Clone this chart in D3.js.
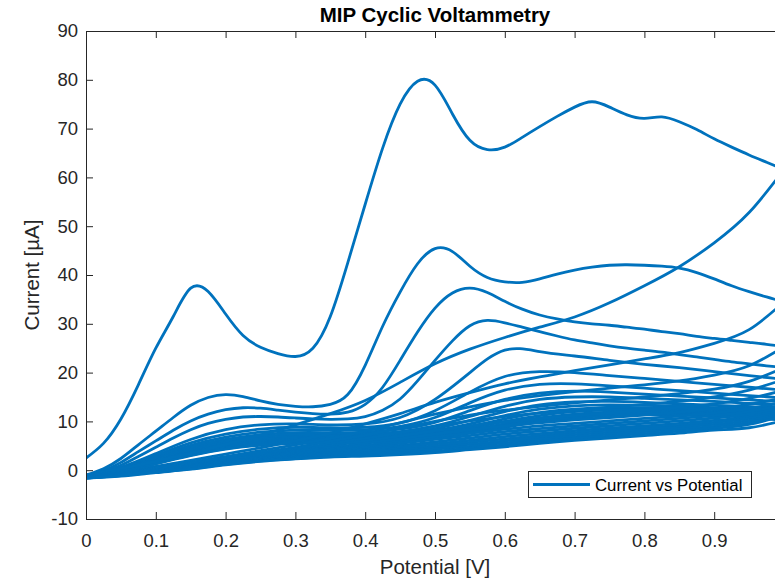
<!DOCTYPE html>
<html>
<head>
<meta charset="utf-8">
<script src="https://cdn.jsdelivr.net/npm/d3@7"></script>
<style>
  html, body { margin: 0; padding: 0; background: #ffffff; }
  svg { display: block; }
  text { font-family: "Liberation Sans", Arial, Helvetica, sans-serif; }
</style>
</head>
<body>
<svg id="chart" width="775" height="579"></svg>
<script>
// Potential grids (V)
const potentialFine = [0, 0.025, 0.05, 0.075, 0.1, 0.125, 0.15, 0.175, 0.2, 0.225, 0.25, 0.275, 0.3, 0.325, 0.35, 0.375, 0.4, 0.425, 0.45, 0.475, 0.5, 0.525, 0.55, 0.575, 0.6, 0.625, 0.65, 0.675, 0.7, 0.725, 0.75, 0.775, 0.8, 0.825, 0.85, 0.875, 0.9, 0.925, 0.95, 0.975, 1.0];
const potential = [0, 0.05, 0.1, 0.15, 0.2, 0.25, 0.3, 0.35, 0.4, 0.45, 0.5, 0.55, 0.6, 0.65, 0.7, 0.75, 0.8, 0.85, 0.9, 0.95, 1.0];

// Anodic (forward) sweeps of the first four cycles, on the fine grid (µA)
const forwardEarly = [
  [2.5, 5.5, 10.5, 17.5, 25.0, 31.5, 37.3, 36.6, 32.0, 27.6, 25.2, 23.9, 23.3, 25.0, 31.5, 42.5, 54.5, 66.0, 75.0, 79.7, 78.9, 73.0, 67.6, 65.7, 66.2, 68.2, 70.4, 72.5, 74.4, 75.5, 74.4, 72.8, 72.1, 72.4, 71.4, 69.8, 67.9, 66.2, 64.6, 63.1, 61.6],
  [-1.0, 0.3, 2.4, 5.2, 8.0, 10.8, 13.3, 14.9, 15.5, 15.1, 14.2, 13.5, 13.1, 13.0, 13.5, 15.5, 21.5, 29.5, 36.5, 42.3, 45.4, 44.8, 41.8, 39.5, 38.6, 38.5, 39.2, 40.2, 41.0, 41.6, 42.0, 42.1, 42.0, 41.8, 41.4, 40.5, 39.2, 37.8, 36.6, 35.5, 34.5],
  [-1.1, -0.1, 1.6, 3.8, 6.0, 8.2, 10.1, 11.5, 12.4, 12.8, 12.7, 12.3, 11.9, 11.6, 11.5, 11.9, 13.5, 17.0, 22.5, 28.3, 33.2, 36.3, 37.3, 36.4, 34.6, 33.0, 31.8, 31.0, 30.4, 30.0, 29.7, 29.3, 28.9, 28.4, 28.0, 27.4, 27.0, 26.6, 26.2, 25.8, 25.3],
  [-1.1, -0.3, 1.0, 2.8, 4.7, 6.6, 8.3, 9.6, 10.4, 10.9, 11.0, 10.9, 10.7, 10.5, 10.4, 10.5, 11.0, 12.3, 14.6, 18.3, 22.5, 26.5, 29.6, 30.7, 30.2, 29.3, 28.4, 27.5, 26.7, 26.1, 25.5, 25.0, 24.6, 24.2, 23.7, 23.2, 22.7, 22.2, 21.8, 21.4, 21.0]
];

// Anodic sweeps of cycles 5-16 (µA)
const forwardLate = [
  [-1.1, 0.6, 3.4, 6.3, 8.3, 9.3, 9.5, 9.3, 9.5, 10.8, 14.5, 20.0, 24.6, 24.3, 23.4, 22.5, 21.7, 21.0, 20.2, 19.4, 18.6],
  [-1.2, 0.4, 3.0, 5.6, 7.4, 8.4, 8.8, 8.7, 8.8, 9.7, 12.2, 16.0, 19.2, 20.2, 20.0, 19.4, 18.8, 18.2, 17.6, 17.0, 16.4],
  [-1.2, 0.3, 2.7, 5.1, 6.8, 7.8, 8.2, 8.2, 8.3, 9.0, 10.8, 13.8, 16.4, 17.6, 17.7, 17.3, 16.8, 16.3, 15.8, 15.3, 14.8],
  [-1.3, 0.2, 2.5, 4.7, 6.3, 7.3, 7.7, 7.7, 7.8, 8.4, 9.8, 12.2, 14.5, 15.8, 16.2, 16.0, 15.6, 15.2, 14.8, 14.4, 14.0],
  [-1.3, 0.1, 2.3, 4.4, 5.9, 6.9, 7.3, 7.3, 7.4, 7.9, 9.1, 11.0, 13.1, 14.5, 15.0, 15.0, 14.7, 14.4, 14.1, 13.7, 13.4],
  [-1.3, 0.0, 2.1, 4.1, 5.6, 6.5, 6.9, 7.0, 7.1, 7.5, 8.5, 10.2, 12.0, 13.4, 14.0, 14.1, 13.9, 13.6, 13.3, 13.0, 12.8],
  [-1.4, -0.1, 1.9, 3.8, 5.3, 6.2, 6.6, 6.7, 6.8, 7.2, 8.1, 9.5, 11.2, 12.5, 13.2, 13.4, 13.3, 13.1, 12.8, 12.6, 12.4],
  [-1.4, -0.2, 1.8, 3.6, 5.0, 5.9, 6.3, 6.4, 6.5, 6.9, 7.7, 9.0, 10.5, 11.8, 12.5, 12.8, 12.8, 12.6, 12.4, 12.2, 12.0],
  [-1.4, -0.3, 1.6, 3.4, 4.8, 5.7, 6.1, 6.2, 6.3, 6.6, 7.4, 8.6, 10.0, 11.2, 12.0, 12.3, 12.3, 12.2, 12.0, 11.8, 11.7],
  [-1.5, -0.3, 1.5, 3.3, 4.6, 5.5, 5.9, 6.0, 6.1, 6.4, 7.1, 8.2, 9.5, 10.7, 11.5, 11.9, 12.0, 11.9, 11.7, 11.5, 11.4],
  [-1.5, -0.4, 1.4, 3.1, 4.4, 5.3, 5.7, 5.8, 5.9, 6.2, 6.8, 7.9, 9.1, 10.3, 11.1, 11.5, 11.7, 11.6, 11.4, 11.3, 11.2],
  [-1.5, -0.4, 1.3, 3.0, 4.3, 5.1, 5.5, 5.6, 5.7, 6.0, 6.6, 7.6, 8.8, 9.9, 10.7, 11.2, 11.4, 11.3, 11.2, 10.8, 10.2]
];

// Return (reverse) sweeps of cycles 1-16, listed from 0 V up to 1 V (µA)
const reverseSweeps = [
  [-1.0, 0.3, 1.8, 3.5, 5.3, 7.2, 9.3, 11.6, 14.3, 18.0, 21.8, 24.8, 27.2, 29.3, 31.4, 34.3, 37.8, 41.7, 46.6, 52.8, 61.6],
  [-1.1, -0.2, 0.8, 2.0, 3.3, 4.6, 6.0, 7.6, 9.5, 11.6, 13.9, 15.9, 17.7, 19.1, 20.4, 21.6, 22.8, 24.1, 26.0, 28.8, 34.5],
  [-1.2, -0.4, 0.5, 1.6, 2.8, 4.0, 5.2, 6.5, 8.0, 9.7, 11.5, 13.0, 14.3, 15.3, 16.1, 16.8, 17.5, 18.3, 19.5, 21.4, 25.3],
  [-1.2, -0.5, 0.4, 1.4, 2.5, 3.6, 4.7, 5.9, 7.2, 8.6, 10.0, 11.3, 12.3, 13.1, 13.8, 14.4, 15.0, 15.7, 16.6, 18.2, 21.0],
  [-1.3, -0.6, 0.3, 1.3, 2.3, 3.3, 4.3, 5.4, 6.5, 7.7, 9.0, 10.1, 11.0, 11.7, 12.3, 12.9, 13.5, 14.1, 15.0, 16.4, 18.6],
  [-1.3, -0.7, 0.2, 1.1, 2.1, 3.1, 4.0, 5.0, 6.0, 7.0, 8.1, 9.1, 9.9, 10.6, 11.2, 11.7, 12.3, 12.9, 13.6, 14.7, 16.4],
  [-1.4, -0.7, 0.1, 1.0, 2.0, 2.9, 3.8, 4.6, 5.5, 6.4, 7.4, 8.3, 9.1, 9.7, 10.3, 10.8, 11.3, 11.9, 12.6, 13.5, 14.8],
  [-1.4, -0.8, 0.0, 0.9, 1.9, 2.8, 3.6, 4.3, 5.1, 5.9, 6.8, 7.6, 8.4, 9.1, 9.6, 10.1, 10.6, 11.1, 11.7, 12.6, 14.0],
  [-1.4, -0.8, -0.1, 0.8, 1.8, 2.6, 3.4, 4.1, 4.8, 5.5, 6.3, 7.1, 7.9, 8.5, 9.1, 9.6, 10.1, 10.6, 11.2, 12.0, 13.4],
  [-1.5, -0.9, -0.1, 0.8, 1.7, 2.5, 3.2, 3.8, 4.5, 5.1, 5.8, 6.6, 7.4, 8.0, 8.6, 9.1, 9.6, 10.1, 10.7, 11.5, 12.8],
  [-1.5, -0.9, -0.2, 0.7, 1.6, 2.4, 3.0, 3.6, 4.2, 4.8, 5.4, 6.1, 6.9, 7.5, 8.1, 8.6, 9.1, 9.6, 10.2, 11.0, 12.4],
  [-1.5, -1.0, -0.2, 0.6, 1.5, 2.3, 2.9, 3.4, 3.9, 4.4, 5.0, 5.7, 6.4, 7.1, 7.7, 8.2, 8.7, 9.2, 9.8, 10.6, 12.0],
  [-1.6, -1.0, -0.3, 0.5, 1.4, 2.1, 2.7, 3.2, 3.6, 4.1, 4.6, 5.3, 6.0, 6.7, 7.3, 7.8, 8.3, 8.8, 9.4, 10.2, 11.7],
  [-1.6, -1.1, -0.4, 0.4, 1.3, 2.0, 2.6, 3.0, 3.4, 3.8, 4.3, 4.9, 5.6, 6.3, 6.9, 7.4, 7.9, 8.4, 9.0, 9.8, 11.4],
  [-1.6, -1.1, -0.4, 0.3, 1.2, 1.9, 2.4, 2.8, 3.1, 3.5, 3.9, 4.5, 5.2, 5.9, 6.5, 7.0, 7.5, 8.0, 8.6, 9.4, 11.2],
  [-1.6, -1.2, -0.5, 0.2, 1.1, 1.8, 2.3, 2.7, 2.9, 3.2, 3.6, 4.2, 4.8, 5.5, 6.1, 6.6, 7.1, 7.6, 8.2, 8.7, 10.2]
];

// Axis ticks (the 1 V tick sits just past the right edge of the figure)
const xTicks = [0, 0.1, 0.2, 0.3, 0.4, 0.5, 0.6, 0.7, 0.8, 0.9];
const xTickLabels = ["0", "0.1", "0.2", "0.3", "0.4", "0.5", "0.6", "0.7", "0.8", "0.9"];
const yTicks = [-10, 0, 10, 20, 30, 40, 50, 60, 70, 80, 90];
const yTickLabels = ["-10", "0", "10", "20", "30", "40", "50", "60", "70", "80", "90"];

const lineColor = "#0072bd";
const axisColor = "#262626";

const svg = d3.select("#chart");
const plot = { left: 86, right: 784, top: 31, bottom: 519 };

const x = d3.scaleLinear().domain([0, 1]).range([plot.left, plot.right]);
const y = d3.scaleLinear().domain([-10, 90]).range([plot.bottom, plot.top]);

svg.append("rect").attr("width", 775).attr("height", 579).attr("fill", "#ffffff");

svg.append("defs").append("clipPath").attr("id", "plot-clip")
  .append("rect")
  .attr("x", plot.left).attr("y", plot.top)
  .attr("width", plot.right - plot.left).attr("height", plot.bottom - plot.top);

// Build every sweep as a list of {v, i} points
const sweeps = [];
forwardEarly.forEach(vals => sweeps.push(vals.map((c, k) => ({ v: potentialFine[k], i: c }))));
forwardLate.forEach(vals => sweeps.push(vals.map((c, k) => ({ v: potential[k], i: c }))));
reverseSweeps.forEach(vals => sweeps.push(vals.map((c, k) => ({ v: potential[k], i: c }))));

const line = d3.line()
  .x(d => x(d.v))
  .y(d => y(d.i))
  .curve(d3.curveNatural);

svg.append("g")
  .attr("clip-path", "url(#plot-clip)")
  .selectAll("path")
  .data(sweeps)
  .join("path")
  .attr("d", line)
  .attr("fill", "none")
  .attr("stroke", lineColor)
  .attr("stroke-width", 2.8)
  .attr("stroke-linejoin", "round")
  .attr("stroke-linecap", "round");

// Axes (ticks point inward, box on)
function styleAxis(g, fontSize) {
  g.attr("color", axisColor)
   .attr("font-family", "'Liberation Sans', Arial, Helvetica, sans-serif")
   .attr("font-size", fontSize);
  g.selectAll("text").attr("fill", axisColor);
}

svg.append("g")
  .attr("transform", `translate(0,${plot.bottom})`)
  .call(d3.axisBottom(x).tickValues(xTicks)
    .tickFormat((d, k) => xTickLabels[k])
    .tickSizeInner(-7).tickSizeOuter(0).tickPadding(15))
  .call(g => styleAxis(g, 18.5));

svg.append("g")
  .attr("transform", `translate(${plot.left},0)`)
  .call(d3.axisLeft(y).tickValues(yTicks)
    .tickFormat((d, k) => yTickLabels[k])
    .tickSizeInner(-7).tickSizeOuter(0).tickPadding(8))
  .call(g => styleAxis(g, 18.5));

svg.append("g")
  .attr("transform", `translate(0,${plot.top})`)
  .call(d3.axisTop(x).tickValues(xTicks).tickFormat(() => "")
    .tickSizeInner(-7).tickSizeOuter(0))
  .call(g => styleAxis(g, 18.5));

svg.append("g")
  .attr("transform", `translate(${plot.right},0)`)
  .call(d3.axisRight(y).tickValues(yTicks).tickFormat(() => "")
    .tickSizeInner(-7).tickSizeOuter(0))
  .call(g => styleAxis(g, 18.5));

// Axis labels and title
svg.append("text")
  .attr("x", (plot.left + plot.right) / 2)
  .attr("y", 574)
  .attr("text-anchor", "middle")
  .attr("font-size", 20.5)
  .attr("fill", axisColor)
  .text("Potential [V]");

svg.append("text")
  .attr("transform", `translate(39,${(plot.top + plot.bottom) / 2}) rotate(-90)`)
  .attr("text-anchor", "middle")
  .attr("font-size", 20.5)
  .attr("fill", axisColor)
  .text("Current [µA]");

svg.append("text")
  .attr("x", (plot.left + plot.right) / 2)
  .attr("y", 22)
  .attr("text-anchor", "middle")
  .attr("font-size", 20.5)
  .attr("font-weight", "bold")
  .attr("fill", "#000000")
  .text("MIP Cyclic Voltammetry");

// Legend
const legend = svg.append("g").attr("transform", "translate(528,471)");
legend.append("rect")
  .attr("x", 0.5).attr("y", 0.5)
  .attr("width", 223).attr("height", 26)
  .attr("fill", "#ffffff")
  .attr("stroke", axisColor)
  .attr("stroke-width", 1);
legend.append("line")
  .attr("x1", 5).attr("x2", 62)
  .attr("y1", 13.5).attr("y2", 13.5)
  .attr("stroke", lineColor)
  .attr("stroke-width", 2.8);
legend.append("text")
  .attr("x", 67).attr("y", 19.5)
  .attr("font-size", 16.8)
  .attr("fill", "#000000")
  .text("Current vs Potential");
</script>
</body>
</html>
